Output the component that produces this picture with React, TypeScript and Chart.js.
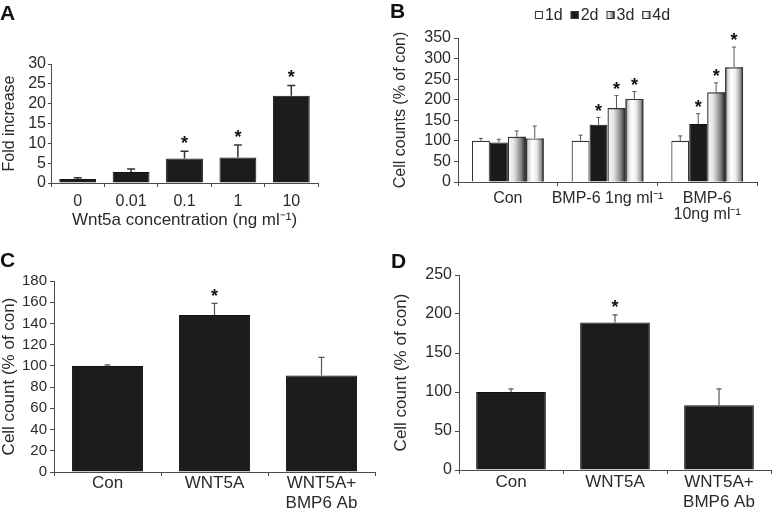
import React, { useEffect, useRef } from 'react';
import { Chart, registerables } from 'chart.js';

Chart.register(...registerables);

const FONT = '"Liberation Sans", Arial, Helvetica, sans-serif';
const TEXT = '#2a2a2a';
const AXIS = '#4a4a4a';
const BAR = '#1c1c1c';

Chart.defaults.font.family = FONT;
Chart.defaults.color = TEXT;

// ---------- Panel A ----------
const aLabels = ['0', '0.01', '0.1', '1', '10'];
const aValues = [1.0, 2.8, 6.2, 6.4, 22.0];
const aErrors = [0.3, 0.7, 1.8, 3.2, 2.6];
const aStars = [false, false, true, true, true];
const aYMax = 30;
const aYStep = 5;

// ---------- Panel B ----------
const bLabels = [['Con'], ['BMP-6 1ng ml⁻¹'], ['BMP-6', '10ng ml⁻¹']];
const bSeries = ['1d', '2d', '3d', '4d'];
const b1d = [100, 100, 100];
const b1dErr = [6, 14, 12];
const b1dStars = [false, false, false];
const b2d = [96, 139, 141];
const b2dErr = [8, 18, 25];
const b2dStars = [false, true, true];
const b3d = [110, 180, 218];
const b3dErr = [14, 30, 23];
const b3dStars = [false, true, true];
const b4d = [106, 202, 279];
const b4dErr = [30, 18, 49];
const b4dStars = [false, true, true];
const bYMax = 350;
const bYStep = 50;

// ---------- Panel C ----------
const cLabels = ['Con', 'WNT5A', ['WNT5A+', 'BMP6 Ab']];
const cValues = [100, 148, 91];
const cErrors = [1, 11, 17];
const cStars = [false, true, false];
const cYMax = 180;
const cYStep = 20;

// ---------- Panel D ----------
const dLabels = ['Con', 'WNT5A', ['WNT5A+', 'BMP6 Ab']];
const dValues = [100, 189, 83];
const dErrors = [4, 10, 21];
const dStars = [false, true, false];
const dYMax = 250;
const dYStep = 50;

function shadeFill(ctx: CanvasRenderingContext2D, kind: string, x0: number, x1: number) {
  const g = ctx.createLinearGradient(x0, 0, x1, 0);
  if (kind === 'fade') {
    g.addColorStop(0, '#fcfcfc');
    g.addColorStop(0.35, '#e2e2e2');
    g.addColorStop(0.75, '#808080');
    g.addColorStop(1, '#222222');
  } else {
    g.addColorStop(0, '#6a6a6a');
    g.addColorStop(0.15, '#d6d6d6');
    g.addColorStop(0.35, '#ffffff');
    g.addColorStop(0.6, '#ececec');
    g.addColorStop(0.85, '#999999');
    g.addColorStop(1, '#383838');
  }
  return g;
}

const shadedBars = {
  id: 'shadedBars',
  beforeDatasetDraw(chart: any, args: any) {
    const ds: any = chart.data.datasets[args.index];
    if (!ds.shade) return;
    const ctx = chart.ctx as CanvasRenderingContext2D;
    args.meta.data.forEach((el: any) => {
      const { x, y, base, width } = el.getProps(['x', 'y', 'base', 'width'], true);
      const left = x - width / 2;
      ctx.save();
      ctx.fillStyle = shadeFill(ctx, ds.shade, left, left + width);
      ctx.fillRect(left, Math.min(y, base), width, Math.abs(base - y));
      ctx.restore();
    });
  },
};

const errorBars = {
  id: 'errorBars',
  afterDatasetsDraw(chart: any, _args: any, opts: any) {
    const ctx = chart.ctx as CanvasRenderingContext2D;
    const yScale = chart.scales.y;
    chart.data.datasets.forEach((ds: any, di: number) => {
      if (!ds.errors) return;
      const meta = chart.getDatasetMeta(di);
      meta.data.forEach((el: any, i: number) => {
        const v = ds.data[i];
        const e = ds.errors[i];
        const x = el.x;
        const yVal = yScale.getPixelForValue(v);
        const yTop = yScale.getPixelForValue(v + e);
        ctx.save();
        ctx.strokeStyle = opts.color;
        ctx.lineWidth = opts.width;
        ctx.beginPath();
        ctx.moveTo(x, yVal);
        ctx.lineTo(x, yTop);
        ctx.moveTo(x - opts.cap / 2, yTop);
        ctx.lineTo(x + opts.cap / 2, yTop);
        ctx.stroke();
        if (ds.stars && ds.stars[i]) {
          ctx.fillStyle = '#111';
          ctx.font = `bold ${opts.starSize}px ${FONT}`;
          ctx.textAlign = 'center';
          ctx.textBaseline = 'alphabetic';
          const cy = yTop - opts.starGap;
          ctx.fillText('*', x, cy + opts.starSize * 0.57);
        }
        ctx.restore();
      });
    });
  },
};

const shadeLegend = {
  id: 'shadeLegend',
  afterDraw(chart: any, _args: any, opts: any) {
    if (!opts || !opts.display) return;
    const ctx = chart.ctx as CanvasRenderingContext2D;
    const area = chart.chartArea;
    ctx.save();
    ctx.font = `${opts.size}px ${FONT}`;
    const items = chart.data.datasets.map((ds: any) => ({ ds, text: ds.label, w: ctx.measureText(ds.label).width }));
    const total = items.reduce((s: number, it: any) => s + opts.box + opts.gap + it.w, 0) + opts.spacing * (items.length - 1);
    let x = (area.left + area.right) / 2 - total / 2 + opts.shift;
    const yc = opts.y;
    items.forEach((it: any) => {
      const by = yc - opts.box / 2;
      ctx.fillStyle = it.ds.shade ? shadeFill(ctx, it.ds.shade, x, x + opts.box) : it.ds.backgroundColor;
      ctx.fillRect(x, by, opts.box, opts.box);
      ctx.strokeStyle = '#333';
      ctx.lineWidth = 1;
      ctx.strokeRect(x + 0.5, by + 0.5, opts.box - 1, opts.box - 1);
      ctx.fillStyle = TEXT;
      ctx.textAlign = 'left';
      ctx.textBaseline = 'middle';
      ctx.fillText(it.text, x + opts.box + opts.gap, yc + 1);
      x += opts.box + opts.gap + it.w + opts.spacing;
    });
    ctx.restore();
  },
};

type Spec = {
  width: number;
  height: number;
  area: { left: number; top: number; right: number; bottom: number };
  labels: any[];
  datasets: any[];
  yMax: number;
  yStep: number;
  yTitle: string;
  yTitleFont: number;
  yTitleLH: number;
  yTitlePad: number;
  yTickFont: number;
  yTickPad: number;
  yTickLen: number;
  xTitle?: string;
  xTitleFont?: number;
  xTitlePadBottom?: number;
  xTickFont: number;
  xTickLH: number;
  xTickPad: number;
  xTickLen: number;
  barPercentage: number;
  categoryPercentage: number;
  err: { color: string; width: number; cap: number; starGap: number; starSize: number };
  legend?: any;
};

function buildConfig(p: Spec): any {
  return {
    type: 'bar',
    data: {
      labels: p.labels,
      datasets: p.datasets.map((d) => ({
        barPercentage: p.barPercentage,
        categoryPercentage: p.categoryPercentage,
        ...d,
      })),
    },
    plugins: [shadedBars, errorBars, shadeLegend],
    options: {
      responsive: false,
      maintainAspectRatio: false,
      animation: false,
      devicePixelRatio: 1,
      events: [],
      layout: {
        padding: { left: 0, top: p.area.top, right: p.width - p.area.right, bottom: 0 },
      },
      plugins: {
        legend: { display: false },
        tooltip: { enabled: false },
        title: { display: false },
        errorBars: p.err,
        shadeLegend: p.legend || { display: false },
      },
      scales: {
        x: {
          type: 'category',
          offset: true,
          grid: { offset: true, drawOnChartArea: false, drawTicks: true, tickLength: p.xTickLen, color: AXIS },
          border: { display: true, color: AXIS, width: 1 },
          ticks: {
            color: TEXT,
            font: { size: p.xTickFont, lineHeight: p.xTickLH },
            padding: p.xTickPad,
            maxRotation: 0,
            minRotation: 0,
            autoSkip: false,
          },
          title: p.xTitle
            ? {
                display: true,
                text: p.xTitle,
                color: TEXT,
                font: { size: p.xTitleFont, lineHeight: 1.2 },
                padding: { top: 0, bottom: p.xTitlePadBottom },
              }
            : { display: false },
          afterFit: (s: any) => {
            s.height = p.height - p.area.bottom;
          },
        },
        y: {
          min: 0,
          max: p.yMax,
          grid: { drawOnChartArea: false, drawTicks: true, tickLength: p.yTickLen, color: AXIS },
          border: { display: true, color: AXIS, width: 1 },
          ticks: {
            stepSize: p.yStep,
            autoSkip: false,
            color: TEXT,
            font: { size: p.yTickFont, lineHeight: 1 },
            padding: p.yTickPad,
          },
          title: {
            display: true,
            text: p.yTitle,
            color: TEXT,
            font: { size: p.yTitleFont, lineHeight: p.yTitleLH },
            padding: { top: p.yTitlePad, bottom: 0 },
          },
          afterFit: (s: any) => {
            s.width = p.area.left;
          },
        },
      },
    },
  };
}

const specA: Spec = {
  width: 385,
  height: 250,
  area: { left: 51, top: 64, right: 318, bottom: 183 },
  labels: aLabels,
  datasets: [
    { label: 'Fold increase', data: aValues, errors: aErrors, stars: aStars, backgroundColor: BAR, borderColor: '#111', borderWidth: 1 },
  ],
  yMax: aYMax,
  yStep: aYStep,
  yTitle: 'Fold increase',
  yTitleFont: 16,
  yTitleLH: 1.2,
  yTitlePad: 0,
  yTickFont: 16,
  yTickPad: 2,
  yTickLen: 3,
  xTitle: 'Wnt5a concentration (ng ml⁻¹)',
  xTitleFont: 17,
  xTitlePadBottom: 19.8,
  xTickFont: 16,
  xTickLH: 1.2,
  xTickPad: 5,
  xTickLen: 4,
  barPercentage: 0.69,
  categoryPercentage: 1,
  err: { color: '#333', width: 1.5, cap: 8, starGap: 12.5, starSize: 18 },
};

const specB: Spec = {
  width: 382,
  height: 250,
  area: { left: 68, top: 38, right: 367, bottom: 182 },
  labels: bLabels,
  datasets: [
    { label: bSeries[0], data: b1d, errors: b1dErr, stars: b1dStars, backgroundColor: '#ffffff', borderColor: '#333', borderWidth: 1.2 },
    { label: bSeries[1], data: b2d, errors: b2dErr, stars: b2dStars, backgroundColor: '#1a1a1a', borderColor: '#111', borderWidth: 1 },
    { label: bSeries[2], data: b3d, errors: b3dErr, stars: b3dStars, shade: 'fade', backgroundColor: 'rgba(0,0,0,0)', borderColor: '#333', borderWidth: 1.2 },
    { label: bSeries[3], data: b4d, errors: b4dErr, stars: b4dStars, shade: 'cylinder', backgroundColor: 'rgba(0,0,0,0)', borderColor: '#333', borderWidth: 1.2 },
  ],
  yMax: bYMax,
  yStep: bYStep,
  yTitle: 'Cell counts (% of con)',
  yTitleFont: 16,
  yTitleLH: 1.2,
  yTitlePad: 1,
  yTickFont: 16,
  yTickPad: 3,
  yTickLen: 4,
  xTickFont: 16,
  xTickLH: 1.0,
  xTickPad: 5,
  xTickLen: 4,
  barPercentage: 1,
  categoryPercentage: 0.72,
  err: { color: '#555', width: 1, cap: 4, starGap: 11, starSize: 18 },
  legend: { display: true, y: 15, size: 16, box: 8, gap: 2, spacing: 8, shift: -5 },
};

const specC: Spec = {
  width: 385,
  height: 266,
  area: { left: 54, top: 31, right: 375, bottom: 222 },
  labels: cLabels,
  datasets: [
    { label: 'Cell count', data: cValues, errors: cErrors, stars: cStars, backgroundColor: BAR, borderColor: '#111', borderWidth: 1 },
  ],
  yMax: cYMax,
  yStep: cYStep,
  yTitle: 'Cell count (% of con)',
  yTitleFont: 17,
  yTitleLH: 1.0,
  yTitlePad: 0.5,
  yTickFont: 15,
  yTickPad: 3,
  yTickLen: 4,
  xTickFont: 17,
  xTickLH: 1.15,
  xTickPad: -2,
  xTickLen: 4,
  barPercentage: 0.665,
  categoryPercentage: 1,
  err: { color: '#555', width: 1.2, cap: 6, starGap: 12, starSize: 18 },
};

const specD: Spec = {
  width: 382,
  height: 266,
  area: { left: 69, top: 25, right: 381, bottom: 220 },
  labels: dLabels,
  datasets: [
    { label: 'Cell count', data: dValues, errors: dErrors, stars: dStars, backgroundColor: BAR, borderColor: '#111', borderWidth: 1 },
  ],
  yMax: dYMax,
  yStep: dYStep,
  yTitle: 'Cell count (% of con)',
  yTitleFont: 17,
  yTitleLH: 1.0,
  yTitlePad: 3,
  yTickFont: 16,
  yTickPad: 3,
  yTickLen: 4,
  xTickFont: 17,
  xTickLH: 1.15,
  xTickPad: -1,
  xTickLen: 4,
  barPercentage: 0.67,
  categoryPercentage: 1,
  err: { color: '#555', width: 1.2, cap: 5, starGap: 12, starSize: 18 },
};

function Panel({ spec, left, top }: { spec: Spec; left: number; top: number }) {
  const ref = useRef<HTMLCanvasElement>(null);
  useEffect(() => {
    const chart = new Chart(ref.current as HTMLCanvasElement, buildConfig(spec));
    return () => chart.destroy();
  }, [spec]);
  return (
    <div style={{ position: 'absolute', left, top, width: spec.width, height: spec.height }}>
      <canvas ref={ref} width={spec.width} height={spec.height} style={{ display: 'block', width: spec.width, height: spec.height }} />
    </div>
  );
}

const labelStyle: React.CSSProperties = {
  position: 'absolute',
  fontFamily: FONT,
  fontWeight: 'bold',
  fontSize: 21,
  lineHeight: '21px',
  color: '#111',
};

export default function App() {
  return (
    <div style={{ position: 'fixed', left: 0, top: 0, width: 772, height: 516, background: '#ffffff', overflow: 'hidden' }}>
      <Panel spec={specA} left={0} top={0} />
      <Panel spec={specB} left={390} top={0} />
      <Panel spec={specC} left={0} top={250} />
      <Panel spec={specD} left={390} top={250} />
      <div style={{ ...labelStyle, left: 0, top: 2 }}>A</div>
      <div style={{ ...labelStyle, left: 390, top: 0 }}>B</div>
      <div style={{ ...labelStyle, left: 0, top: 249 }}>C</div>
      <div style={{ ...labelStyle, left: 391, top: 250 }}>D</div>
    </div>
  );
}
